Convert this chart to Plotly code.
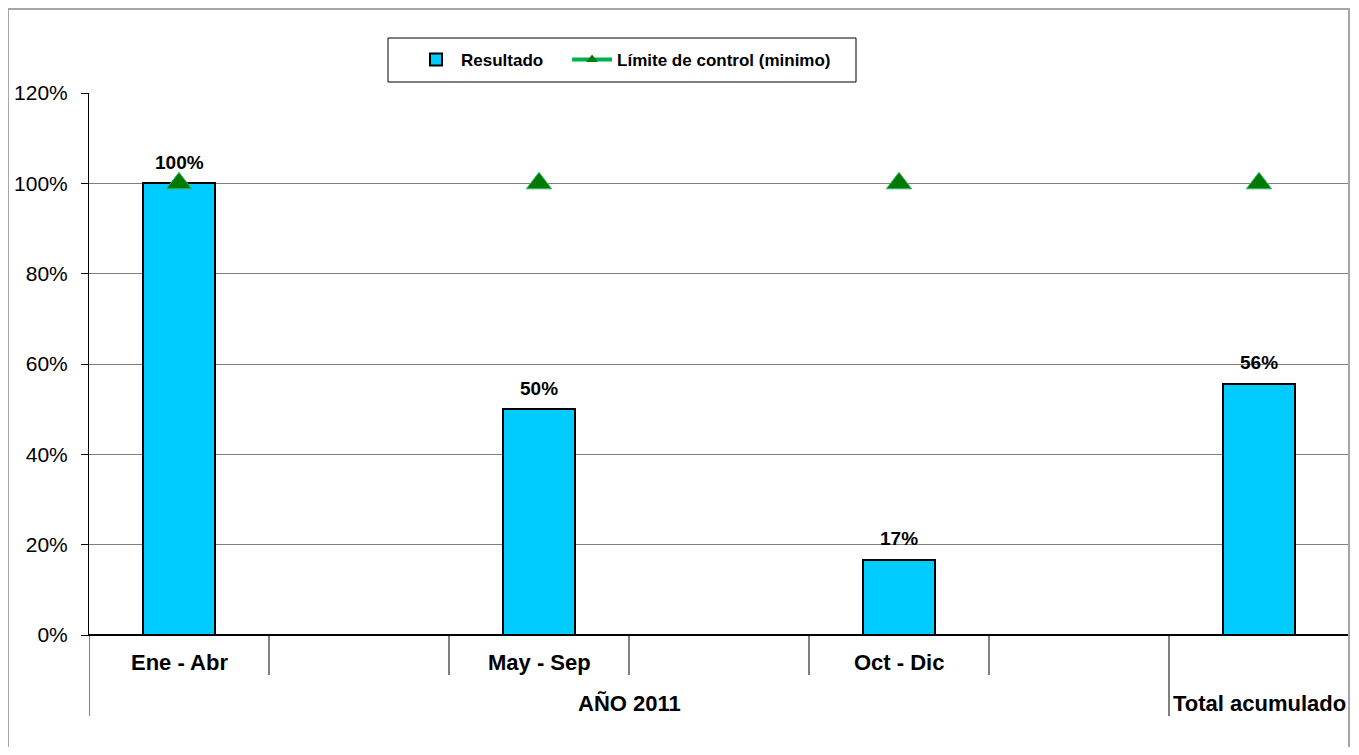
import plotly.graph_objects as go

# ---- data ----
periodos = ["Ene - Abr", "", "May - Sep", "", "Oct - Dic", "", ""]
grupos = ["AÑO 2011", "Total acumulado"]
grupo_inicio = [0, 6]
grupo_fin = [6, 7]
resultado_idx = [0, 2, 4, 6]
resultado = [1.00, 0.50, 0.1667, 0.556]
resultado_txt = ["100%", "50%", "17%", "56%"]
limite = [1.0, 1.0, 1.0, 1.0]
y_tickvals = [0, 0.2, 0.4, 0.6, 0.8, 1.0, 1.2]
y_ticktext = ["0%", "20%", "40%", "60%", "80%", "100%", "120%"]

FONT = "Liberation Sans, Arial, sans-serif"
n = len(periodos)
xs = [i + 0.5 for i in resultado_idx]

# page offset (body margin 8px)
OX, OY = 8, 8
W, H = 1359 - 16, 755 - 16
PL, PR, PT, PB = 89, 1349, 93, 635   # target plot box in window px
PW, PH = PR - PL, PB - PT


def px_x(x):
    return (x - PL) / PW


def px_y(y):
    return (PB - y) / PH


fig = go.Figure()
fig.add_trace(go.Bar(
    x=xs, y=resultado, width=0.4, name="Resultado" + "\u00a0" * 4,
    marker=dict(color="#00CCFF", line=dict(color="black", width=2)),
    hoverinfo="skip",
))
fig.add_trace(go.Scatter(
    x=xs, y=limite, mode="markers", showlegend=False, cliponaxis=False,
    marker=dict(symbol="triangle-up", size=22, color="#007A00",
                line=dict(color="#3CB371", width=1)),
))
# legend entry (line + marker)
fig.add_trace(go.Scatter(
    x=[None], y=[None], mode="lines+markers", name="Límite de control (minimo)",
    line=dict(color="#00B050", width=4),
    marker=dict(symbol="triangle-up", size=10, color="#007A00"),
))

shapes = []
annotations = []
# data labels
for x, v, t in zip(xs, resultado, resultado_txt):
    annotations.append(dict(x=x, y=v, xref="x", yref="y", text="<b>%s</b>" % t, showarrow=False,
                            yanchor="middle", yshift=21, font=dict(family=FONT, size=19, color="black")))
# first-level dividers
for i in range(n):
    y1 = px_y(675) if i not in grupo_inicio else px_y(716)
    shapes.append(dict(type="line", xref="x", yref="paper", x0=i, x1=i, y0=0, y1=y1,
                       line=dict(color="black", width=1)))
for i, lab in enumerate(periodos):
    if lab:
        annotations.append(dict(x=i + 0.5, y=px_y(662), xref="x", yref="paper", text="<b>%s</b>" % lab,
                                showarrow=False, yanchor="middle",
                                font=dict(family=FONT, size=22, color="black")))
for g, a, b in zip(grupos, grupo_inicio, grupo_fin):
    annotations.append(dict(x=(a + b) / 2, y=px_y(703), xref="x", yref="paper", text="<b>%s</b>" % g,
                            showarrow=False, yanchor="middle",
                            font=dict(family=FONT, size=22, color="black")))
# chart border
shapes.append(dict(type="rect", xref="paper", yref="paper", x0=px_x(8), x1=1.0,
                   y0=px_y(770), y1=px_y(9), line=dict(color="#A6A6A6", width=2)))
# legend box
shapes.append(dict(type="rect", xref="paper", yref="paper", x0=px_x(388), x1=px_x(856),
                   y0=px_y(82), y1=px_y(38), line=dict(color="black", width=1),
                   fillcolor="rgba(0,0,0,0)"))

fig.update_layout(
    width=W, height=H, autosize=False,
    margin=dict(l=PL - OX, r=OX + W - PR, t=PT - OY, b=OY + H - PB),
    paper_bgcolor="white", plot_bgcolor="white",
    font=dict(family=FONT, color="black"),
    showlegend=True,
    legend=dict(orientation="h", x=px_x(411), xanchor="left", y=px_y(60),
                yanchor="middle", font=dict(family=FONT, size=17, color="black", weight="bold"),
                bgcolor="rgba(0,0,0,0)", itemwidth=40),
    xaxis=dict(range=[0, n], showticklabels=False, showgrid=False, zeroline=False,
               showline=True, linecolor="black", linewidth=1, ticks="", fixedrange=True),
    yaxis=dict(range=[0, 1.2], tickvals=y_tickvals, ticktext=y_ticktext, showgrid=True,
               gridcolor="#808080", gridwidth=1, zeroline=True, zerolinecolor="black",
               showline=True, linecolor="black", linewidth=1, ticks="outside", ticklen=7,
               tickcolor="black", ticklabelstandoff=9,
               tickfont=dict(family=FONT, size=21, color="black")),
    shapes=shapes, annotations=annotations,
    bargap=0,
)
fig.write_html("out.html")
